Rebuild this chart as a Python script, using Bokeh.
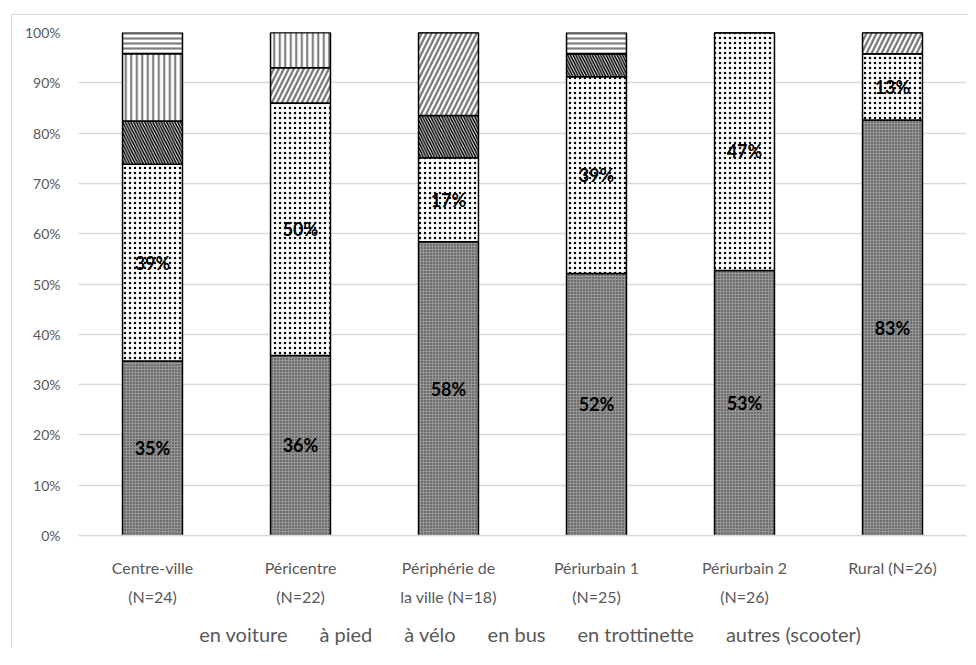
from bokeh.plotting import figure
from bokeh.layouts import column
from bokeh.models import (ColumnDataSource, FactorRange, Range1d, FixedTicker,
                          NumeralTickFormatter, Legend, LegendItem)
from bokeh.core.properties import value
from bokeh.embed import file_html
from bokeh.resources import INLINE

categories = ["Centre-ville\n(N=24)", "Péricentre\n(N=22)", "Périphérie de\nla ville (N=18)",
              "Périurbain 1\n(N=25)", "Périurbain 2\n(N=26)", "Rural (N=26)"]
series = ["en voiture", "à pied", "à vélo", "en bus", "en trottinette", "autres (scooter)"]
voiture = [34.7, 35.8, 58.4, 52.1, 52.7, 82.6]
pied = [39.1, 50.2, 16.7, 39.1, 47.3, 13.2]
velo = [8.6, 0.0, 8.4, 4.6, 0.0, 0.0]
bus = [0.0, 7.0, 16.5, 0.0, 0.0, 4.2]
trottinette = [13.4, 7.0, 0.0, 0.0, 0.0, 0.0]
autres = [4.2, 0.0, 0.0, 4.2, 0.0, 0.0]
yticks = [0, 0.1, 0.2, 0.3, 0.4, 0.5, 0.6, 0.7, 0.8, 0.9, 1.0]

cols = ["voiture", "pied", "velo", "bus", "trottinette", "autres"]
vals = [voiture, pied, velo, bus, trottinette, autres]
data = {"cat": categories}
for c, v in zip(cols, vals):
    data[c] = [x / 100.0 for x in v]
source = ColumnDataSource(data)

FONT = "Lato"
GREY = "#595959"

p = figure(x_range=FactorRange(factors=categories), y_range=Range1d(0, 1),
           width=956, height=605, output_backend="svg", toolbar_location=None,
           min_border_left=66, min_border_right=2, min_border_top=17, min_border_bottom=85)
p.outline_line_color = None

fill_colors = ["#969696", "white", "white", "white", "white", "white"]
hatch_patterns = [".", ".", "\\", "/", "|", "-"]
hatch_colors = ["#2b2b2b", "black", "black", "#7f7f7f", "#7f7f7f", "#7f7f7f"]
hatch_scales = [3, 5, 5.5, 10, 5.5, 5]
hatch_weights = [1.2, 1.1, 1.6, 2.4, 2.2, 2.2]

renderers = p.vbar_stack(cols, x="cat", width=0.405, source=source,
                         line_color="black", line_width=1.5,
                         fill_color=fill_colors, hatch_pattern=hatch_patterns,
                         hatch_color=hatch_colors, hatch_scale=hatch_scales,
                         hatch_weight=hatch_weights)

# data labels for voiture and pied
lab_x, lab_y, lab_t = [], [], []
for i, cat in enumerate(categories):
    lab_x.append(cat); lab_y.append(voiture[i] / 200.0); lab_t.append(f"{round(voiture[i])}%")
    lab_x.append(cat); lab_y.append((voiture[i] + pied[i] / 2.0) / 100.0); lab_t.append(f"{round(pied[i])}%")
p.text(x=lab_x, y=lab_y, text=lab_t, text_align="center", text_baseline="middle",
       text_font=value(FONT), text_font_style="bold", text_font_size="18px", text_color="black")

# axes
p.yaxis.ticker = FixedTicker(ticks=yticks)
p.yaxis.formatter = NumeralTickFormatter(format="0%")
p.yaxis.axis_line_color = None
p.yaxis.major_tick_line_color = None
p.yaxis.minor_tick_line_color = None
p.yaxis.major_label_text_font = FONT
p.yaxis.major_label_text_font_size = "14px"
p.yaxis.major_label_text_color = GREY
p.yaxis.major_label_standoff = 12

p.xaxis.axis_line_color = "#d9d9d9"
p.xaxis.axis_line_width = 1.5
p.xaxis.major_tick_line_color = None
p.xaxis.minor_tick_line_color = None
p.xaxis.major_label_text_font = FONT
p.xaxis.major_label_text_font_size = "16px"
p.xaxis.major_label_text_color = GREY
p.xaxis.major_label_standoff = 16
p.xaxis.major_label_text_line_height = 1.55

p.xgrid.grid_line_color = None
p.ygrid.grid_line_color = "#d9d9d9"
p.ygrid.grid_line_width = 1.5

# legend strip below the chart
p2 = figure(width=956, height=28, x_range=Range1d(0, 1), y_range=Range1d(0, 1),
            output_backend="svg", toolbar_location=None, x_axis_type=None, y_axis_type=None,
            min_border_left=46, min_border_right=0, min_border_top=0, min_border_bottom=0)
p2.outline_line_color = None
legend_renderers = []
for i in range(len(series)):
    r = p2.vbar(x=[], top=[], width=0.5, line_color="black", line_width=1.2,
                fill_color=fill_colors[i], hatch_pattern=hatch_patterns[i],
                hatch_color=hatch_colors[i], hatch_scale=hatch_scales[i],
                hatch_weight=hatch_weights[i])
    legend_renderers.append(r)

legend = Legend(items=[LegendItem(label=s, renderers=[r]) for s, r in zip(series, legend_renderers)],
                orientation="horizontal", location="center")
legend.label_text_font = FONT
legend.label_text_font_size = "20px"
legend.label_text_color = GREY
legend.glyph_width = 13
legend.glyph_height = 13
legend.label_standoff = 3
legend.spacing = 16
legend.padding = 0
legend.margin = 0
legend.border_line_color = None
legend.background_fill_alpha = 0
p2.add_layout(legend, "center")

layout = column(p, p2, spacing=0,
                styles={"margin-left": "11px", "margin-top": "14px",
                        "border-left": "1px solid #d9d9d9", "border-top": "1px solid #d9d9d9"})

open("out.html", "w").write(file_html(layout, INLINE))
